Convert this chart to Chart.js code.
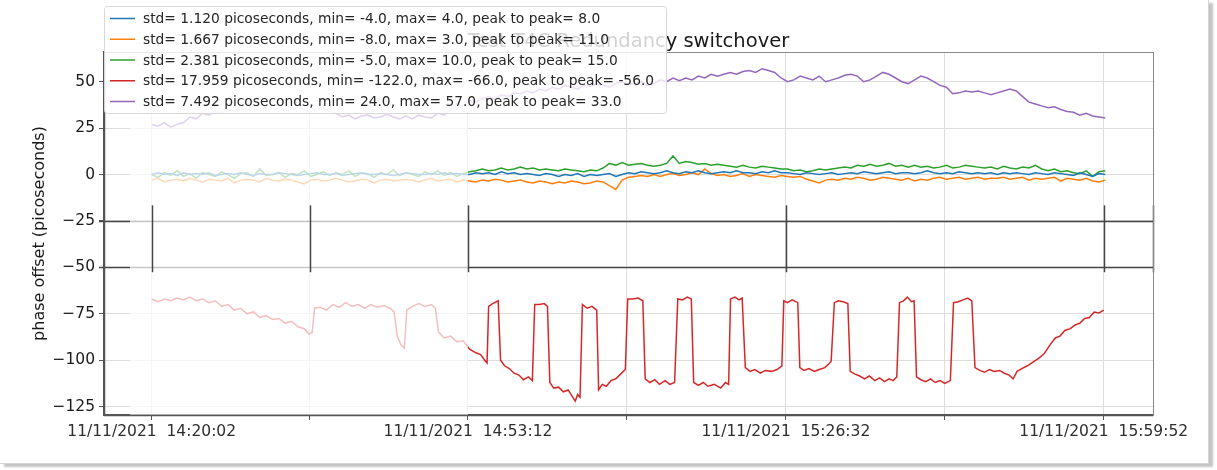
<!DOCTYPE html>
<html>
  <head>
    <meta charset="utf-8">
    <style>
      body { margin: 0; background: #fff; }
      #frame {
        position: absolute; left: 0; top: 0; width: 1208px; height: 463px;
        border-right: 1px solid #d4d4d4; border-bottom: 1px solid #d4d4d4;
        box-shadow: 4px 3px 2px #c4c4c4;
      }
      #chart-container { position: absolute; left: 0; top: 0; width: 1205px; height: 461px; }
    </style>
  </head>
  <body>
    <div id="frame"></div>
    <div id="chart-container"><canvas id="chart"></canvas></div>

    <script src="https://cdn.jsdelivr.net/npm/chart.js"></script>
    <script>
      // seconds after 11/11/2021 14:20:02, one sample every 40 s for the four quiet series
      const SAMPLE_STEP = 40;

      const blueValues = [
        0, 1, 0, 0.5, -0.5, 1, 0, 0.5, 0, 1,
        -0.5, 0, 0.5, 0, 1, 0, -0.5, 0.5, 0, 0,
        1, 0.5, 0, -0.5, 0, 0.5, 1, 0, 0, 0.5,
        -0.5, 0, 0.5, 1, 0, 0, 0.5, 0, -0.5, 0,
        1, 0.5, 0, 0, 0.5, 0, 1, 0, 0.5, 0,
        0, 1, 0.5, 1, 0, 1.5, 0.5, 1, 0, 0.5,
        0, -0.5, 0.5, 0, -1, 0, -0.5, 0.5, -1, 0,
        -0.5, 0, 0.5, -1, 0, 1, 0.5, 1.5, 1, 0.5,
        1, 2, 1, 0.5, 1.5, 1, 2, 1, 0.5, 1,
        1.5, 1, 2, 1, 1, 0.5, 1.5, 1, 2, 1,
        1, 0.5, 0, 1, 0.5, 0, 0.5, 1, 0, 0.5,
        1, 0.5, 1.5, 1, 0.5, 1, 1.5, 0.5, 1, 1,
        0.5, 1, 2, 1, 0.5, 1, 0.5, 1.5, 1, 0.5,
        1, 0.5, 1, 0, 1, 0.5, 1, 0.5, 0, 1,
        0.5, 0, 1, 0.5, 0, -0.5, 1, 0, -1, 0.5,
        0
      ];

      const orangeValues = [
        -3, -2, -4, -3, -2.5, -3.5, -2, -3, -4, -2.5,
        -3, -3.5, -2, -4.5, -3, -2.5, -3, -4, -2, -3,
        -3.5, -2.5, -3, -4, -5, -3, -2.5, -3.5, -3, -2,
        -3, -4, -3.5, -2.5, -3, -4.5, -3, -2.5, -3.5, -3,
        -2.5, -3, -4, -3, -2, -3.5, -3, -2.5, -4, -3,
        -3.5, -4, -3, -3.5, -2.5, -3, -4, -3.5, -3, -4,
        -4.5, -3.5, -4, -5, -4, -4.5, -3.5, -4, -5, -4.5,
        -3.5, -4, -6, -8, -3, -1.5, -1, -0.5, -1, 0,
        -1, 0, 0.5, -0.5, 0, 1, 0, 3, 0.5, -0.5,
        0, -1, -0.5, 0.5, -1, 0, -0.5, -1, -1.5, -0.5,
        -1, -1.5, -1, -2.5, -3.5, -4.5, -3, -2.5, -3, -2,
        -2.5, -1.5, -2, -3, -2.5, -1.5, -2, -2.5, -3, -2,
        -3.5, -2.5, -3, -2, -1.5, -2.5, -2, -1.5, -2.5, -2,
        -1.5, -2.5, -2, -2, -1.5, -2.5, -2, -1.5, -3, -2,
        -2.5, -2, -1.5, -3.5, -2, -2.5, -3, -2, -3.5, -4,
        -3
      ];

      const greenValues = [
        0, -1.5, 1, -0.5, 2, -1, 0.5, -2, 1, 0,
        -1, 1.5, 0, -2, 0.5, 1, -1, 3, -0.5, 0,
        1, -1.5, 0.5, 0, 2, -1, 0, 1.5, -0.5, 1,
        0, 2, -1, 1, 0.5, -1.5, 1, 0, 2.5, -0.5,
        1, 0, -1, 1.5, 0, 2, -0.5, 1, -1, 0.5,
        1.5, 2, 3, 2, 2.5, 3.5, 2.5, 3, 4, 3,
        3.5, 2.5, 3, 2.5, 2, 3, 2.5, 2, 1.5, 2.5,
        2, 3.5, 6, 5, 6.5, 5, 5.5, 6, 5, 4.5,
        5, 6, 10, 6, 7, 6.5, 5.5, 6, 5, 5.5,
        5, 4.5, 4, 5, 4, 3.5, 4.5, 4, 3.5, 3,
        3, 2, 2.5, 1.5, 2, 3, 2.5, 3, 3.5, 4,
        3.5, 5, 4.5, 5.5, 4.5, 5, 6, 4.5, 5, 4,
        5, 4, 4.5, 3.5, 4, 5, 3.5, 4, 5, 4.5,
        4, 3.5, 4, 3, 4.5, 3.5, 3, 4, 3.5, 5,
        3, 2, 3, 1.5, 2, 1, 0.5, 2, -1, 1.5,
        2
      ];

      const purpleValues = [
        27, 26, 28, 25.5, 27, 28, 31, 30, 33, 32,
        34, 33, 35, 34, 36, 35, 34, 35.5, 36, 35,
        36, 34.5, 35, 36.5, 35, 34, 35.5, 36, 34, 33,
        31, 32, 30, 31.5, 32, 30.5, 31, 32.5, 31, 30,
        31.5, 30, 32, 31, 30.5, 33, 32, 35, 38, 37,
        40, 39, 41, 42, 40.5, 43, 42, 44, 43.5, 45,
        44, 46, 45, 47, 46, 48, 47, 46, 48, 47.5,
        49, 48, 47, 49, 50, 48.5, 49, 50, 48, 49,
        51, 50, 52, 50.5, 52, 51, 53, 52, 54, 53,
        54, 55, 54, 55.5, 56, 55, 57, 56, 55, 52,
        50, 51, 53, 52, 51, 53, 50, 51, 52, 53.5,
        54, 53, 50, 51, 53, 55, 54, 52, 50, 49,
        51, 53, 52, 50, 48, 47, 43.5, 44, 45, 44.5,
        45, 44, 43, 44, 45, 46, 45, 42, 39, 38,
        37, 36, 36.5, 35, 34, 33.5, 32, 33, 31.5, 31,
        30.5
      ];

      // the red series switches quickly, so it keeps its own sample times
      const redTimes = [
        0, 40, 80, 120, 160, 200, 240, 280, 320, 360, 400, 440, 480, 520, 560, 600, 640, 680, 720, 760,
        800, 840, 880, 920, 960, 990, 1010, 1025, 1060, 1100, 1140, 1180, 1220, 1260, 1300, 1340, 1380, 1420, 1460, 1500,
        1525, 1545, 1570, 1590, 1605, 1640, 1680, 1720, 1760, 1785, 1805, 1840, 1880, 1920, 1960, 2000, 2040, 2070, 2095, 2110,
        2120, 2145, 2180, 2195, 2220, 2250, 2280, 2310, 2340, 2370, 2395, 2410, 2440, 2470, 2490, 2505, 2530, 2560, 2590, 2620,
        2650, 2665, 2680, 2695, 2710, 2740, 2770, 2800, 2812, 2835, 2860, 2890, 2920, 2950, 2980, 2995, 3025, 3060, 3090, 3105,
        3135, 3165, 3195, 3230, 3260, 3290, 3310, 3340, 3370, 3395, 3410, 3440, 3470, 3500, 3540, 3580, 3610, 3630, 3642, 3670,
        3695, 3715, 3735, 3765, 3795, 3830, 3860, 3900, 3935, 3965, 3977, 4000, 4030, 4065, 4078, 4105, 4135, 4170, 4200, 4235,
        4260, 4275, 4295, 4320, 4350, 4380, 4395, 4425, 4455, 4485, 4515, 4550, 4580, 4610, 4640, 4665, 4688, 4705, 4730, 4755,
        4780, 4797, 4812, 4840, 4870, 4900, 4930, 4960, 4990, 5025, 5045, 5075, 5105, 5135, 5160, 5180, 5210, 5240, 5270, 5300,
        5335, 5365, 5395, 5420, 5445, 5475, 5510, 5545, 5580, 5615, 5650, 5685, 5715, 5745, 5780, 5810, 5840, 5870, 5900, 5930,
        5960, 5990
      ];
      const redValues = [
        -67, -68.5, -67, -68, -66.5, -67.5, -66, -68, -67, -69, -68, -71, -70, -73, -72, -75, -74, -77, -76, -78,
        -77.5, -80, -79, -82, -83, -86, -85, -72, -71.5, -73, -70, -71.5, -69, -71, -70, -72, -70, -71.5, -70.5, -72,
        -74, -87, -92, -93.5, -73, -71, -69.5, -71, -70, -72, -85, -88, -87, -90, -89.5, -94, -96, -97, -100, -101.5,
        -71, -69.5, -68, -100, -103, -104.5, -107, -108, -110.5, -109, -111, -70, -70, -69.5, -71, -112, -115, -114.5, -117, -116,
        -120, -122, -118.5, -120, -70, -72, -71, -73, -116, -113, -114, -111, -110, -107.5, -105, -67, -67, -66.5, -68, -110,
        -112, -110.5, -113, -111, -113, -112, -67, -67.5, -66, -67, -112, -113.5, -112, -114, -113, -115, -112, -113, -67, -66,
        -67.5, -66.5, -104, -106, -105, -107, -105.5, -106, -105, -103, -68, -69, -67.5, -69, -104, -105.5, -104.5, -106, -105, -104,
        -102, -100.5, -69, -68, -68.5, -69.5, -106, -107.5, -108.5, -110, -108.5, -111, -109.5, -111.5, -110, -111, -109, -69, -68, -66,
        -68.5, -68, -109, -110.5, -111.5, -110, -112, -111, -112.5, -111, -69, -68.5, -67.5, -66.5, -68, -104, -105.5, -106.5, -105, -106,
        -105.5, -107, -108, -110, -106, -104.5, -103, -101, -99, -96.5, -92, -88, -87, -84, -83, -81, -80, -77.5, -77, -74,
        -74.5, -73
      ];

      const seriesLabels = [
        "std= 1.120 picoseconds, min= -4.0, max= 4.0, peak to peak= 8.0",
        "std= 1.667 picoseconds, min= -8.0, max= 3.0, peak to peak= 11.0",
        "std= 2.381 picoseconds, min= -5.0, max= 10.0, peak to peak= 15.0",
        "std= 17.959 picoseconds, min= -122.0, max= -66.0, peak to peak= -56.0",
        "std= 7.492 picoseconds, min= 24.0, max= 57.0, peak to peak= 33.0"
      ];
      const seriesColors = ["#1f77b4", "#ff7f0e", "#2ca02c", "#d62728", "#9467bd"];

      const xTickSeconds = [0, 995, 1990, 2990, 3990, 4990, 5990];
      const xTickLabels = ["11/11/2021  14:20:02", "", "11/11/2021  14:53:12", "", "11/11/2021  15:26:32", "", "11/11/2021  15:59:52"];
      const yTickValues = [-125, -100, -75, -50, -25, 0, 25, 50];

      const titleText = "Test T4C Redundancy switchover";
      const yAxisTitle = "phase offset (picoseconds)";

      // the screenshot this copies has a washed out left part and a dark band
      const FADE_END = 1990;
      const bandLevels = [-25, -50];
      const bandTicks = [0, 995, 1990, 3990, 5990, 6300];

      function onGrid(values) {
        return values.map(function (v, i) { return { x: i * SAMPLE_STEP, y: v }; });
      }

      const allSeries = [
        onGrid(blueValues),
        onGrid(orangeValues),
        onGrid(greenValues),
        redTimes.map(function (t, i) { return { x: t, y: redValues[i] }; }),
        onGrid(purpleValues)
      ];

      const FONT = '"DejaVu Sans", sans-serif';

      const decorations = {
        id: "decorations",
        beforeDatasetsDraw(chart) {
          const ctx = chart.ctx, a = chart.chartArea, y = chart.scales.y;
          ctx.save();
          ctx.strokeStyle = "#454545";
          ctx.lineWidth = 1.5;
          bandLevels.forEach(function (v) {
            const py = Math.round(y.getPixelForValue(v)) + 0.5;
            ctx.beginPath();
            ctx.moveTo(a.left - 5, py);
            ctx.lineTo(a.right, py);
            ctx.stroke();
          });
          ctx.restore();
        },
        afterDatasetsDraw(chart) {
          const ctx = chart.ctx, a = chart.chartArea, x = chart.scales.x, y = chart.scales.y;
          ctx.save();
          // washed out left part
          const fx0 = a.left + 26;
          const fx1 = x.getPixelForValue(FADE_END);
          ctx.fillStyle = "rgba(255,255,255,0.7)";
          ctx.fillRect(fx0, a.top, fx1 - fx0, a.bottom - a.top);

          // dark band uprights
          ctx.strokeStyle = "#454545";
          ctx.lineWidth = 1.5;
          const yTop = y.getPixelForValue(-16.6), yBot = y.getPixelForValue(-52.6);
          bandTicks.forEach(function (t) {
            const px = Math.round(x.getPixelForValue(t)) + 0.5;
            ctx.beginPath();
            ctx.moveTo(px, yTop);
            ctx.lineTo(px, yBot);
            ctx.stroke();
          });

          // spines
          ctx.lineWidth = 1;
          ctx.strokeStyle = "#8a8a8a";
          ctx.strokeRect(Math.round(a.left) + 0.5, Math.round(a.top) + 0.5, Math.round(a.right - a.left), Math.round(a.bottom - a.top));
          ctx.strokeStyle = "#555";
          ctx.lineWidth = 1.5;
          ctx.beginPath();
          ctx.moveTo(Math.round(a.left) + 0.5, a.top);
          ctx.lineTo(Math.round(a.left) + 0.5, Math.round(a.bottom) + 0.5);
          ctx.lineTo(a.right, Math.round(a.bottom) + 0.5);
          ctx.stroke();
          ctx.restore();
        },
        afterDraw(chart) {
          const ctx = chart.ctx, a = chart.chartArea;
          ctx.save();
          // title
          ctx.fillStyle = "#1a1a1a";
          ctx.font = "19.5px " + FONT;
          ctx.textAlign = "center";
          ctx.textBaseline = "alphabetic";
          ctx.fillText(titleText, (a.left + a.right) / 2, 47);

          // y axis title
          ctx.save();
          ctx.translate(40, (a.top + a.bottom) / 2);
          ctx.rotate(-Math.PI / 2);
          ctx.font = "16px " + FONT;
          ctx.textBaseline = "middle";
          ctx.fillText(yAxisTitle, 0, 0);
          ctx.restore();

          // legend box over the title
          ctx.beginPath();
          ctx.roundRect(104.5, 6.5, 562, 107, 3);
          ctx.fillStyle = "rgba(255,255,255,0.8)";
          ctx.fill();
          ctx.strokeStyle = "#d8d8d8";
          ctx.lineWidth = 1;
          ctx.stroke();

          ctx.font = "13.8px " + FONT;
          ctx.textAlign = "left";
          ctx.textBaseline = "middle";
          seriesLabels.forEach(function (label, i) {
            const ry = 18.5 + i * 20.75;
            ctx.strokeStyle = seriesColors[i];
            ctx.lineWidth = 1.5;
            ctx.beginPath();
            ctx.moveTo(110, ry);
            ctx.lineTo(135, ry);
            ctx.stroke();
            ctx.fillStyle = "#262626";
            ctx.fillText(label, 143, ry + 1);
          });
          ctx.restore();
        }
      };

      new Chart(document.getElementById("chart"), {
        type: "line",
        data: {
          datasets: allSeries.map(function (points, i) {
            return {
              label: seriesLabels[i],
              data: points,
              borderColor: seriesColors[i],
              borderWidth: 1.5,
              pointRadius: 0,
              tension: 0,
              fill: false
            };
          })
        },
        options: {
          responsive: true,
          maintainAspectRatio: false,
          animation: false,
          events: [],
          layout: { padding: { top: 52, right: 52, bottom: 0, left: 0 } },
          plugins: { legend: { display: false }, title: { display: false }, tooltip: { enabled: false } },
          scales: {
            x: {
              type: "linear",
              min: -300,
              max: 6300,
              afterBuildTicks: function (s) { s.ticks = xTickSeconds.map(function (v) { return { value: v }; }); },
              afterFit: function (s) { s.height = 46; },
              grid: { color: "#dddddd", tickColor: "#555", tickLength: 5 },
              border: { color: "#555", width: 1.5 },
              ticks: {
                autoSkip: false, maxRotation: 0, minRotation: 0, padding: 3,
                color: "#2e2e2e", font: { family: "DejaVu Sans", size: 15.5 },
                callback: function (v, i) { return xTickLabels[i]; }
              }
            },
            y: {
              min: -129.5,
              max: 66,
              afterBuildTicks: function (s) { s.ticks = yTickValues.map(function (v) { return { value: v }; }); },
              afterFit: function (s) { s.width = 104; },
              grid: { color: "#dddddd", tickColor: "#555", tickLength: 5 },
              border: { color: "#555", width: 1.5 },
              ticks: {
                padding: 4, color: "#1a1a1a", font: { family: "DejaVu Sans", size: 15.5 },
                callback: function (v) { return String(v).replace("-", "\u2212"); }
              }
            }
          }
        },
        plugins: [decorations]
      });
    </script>
  </body>
</html>
